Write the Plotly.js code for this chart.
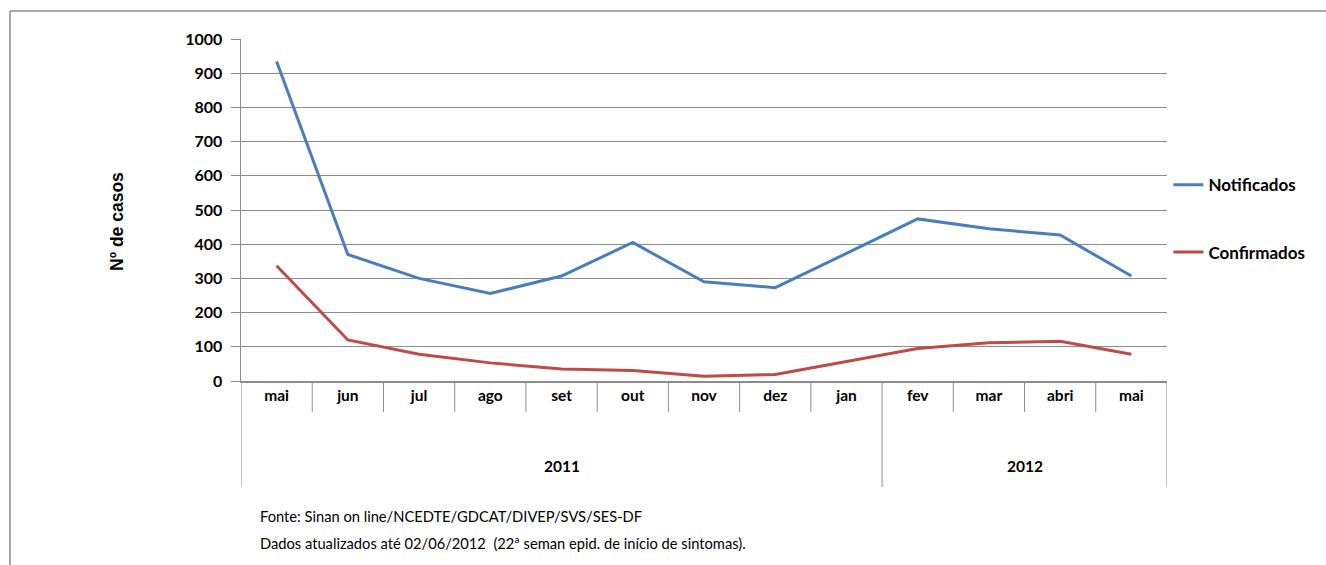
<!DOCTYPE html>
<html>
<head>
<meta charset="utf-8">
<script src="https://cdn.plot.ly/plotly-3.0.1.min.js"></script>
<style>
html,body{margin:0;padding:0;background:#fff;}
#chart{width:1326px;height:565px;}
</style>
</head>
<body>
<div id="chart"></div>
<script>
// ---- data ----
const months = ["mai","jun","jul","ago","set","out","nov","dez","jan","fev","mar","abri","mai"];
const years = ["2011","2011","2011","2011","2011","2011","2011","2011","2011","2012","2012","2012","2012"];
const notificados = [934, 370, 300, 256, 307, 405, 290, 273, 373, 474, 445, 427, 307];
const confirmados = [337, 120, 78, 53, 35, 31, 14, 19, 57, 95, 112, 116, 78];
const yTicks = [0,100,200,300,400,500,600,700,800,900,1000];
const yTitle = "Nº de casos";
const footnote1 = "Fonte: Sinan on line/NCEDTE/GDCAT/DIVEP/SVS/SES-DF";
const footnote2 = "Dados atualizados até 02/06/2012  (22ª seman epid. de início de sintomas).";

const idx = months.map((_, i) => i);

const traces = [
  {x: idx, y: notificados, name: "Notificados", type: "scatter", mode: "lines",
   line: {color: "#4A7EBB", width: 3}, legendgroup: "a"},
  {x: idx, y: confirmados, name: "Confirmados", type: "scatter", mode: "lines",
   line: {color: "#BE4B48", width: 3}, legendgroup: "b"}
];

// year groups derived from the years array
const groups = [];
years.forEach((y, i) => {
  if (!groups.length || groups[groups.length-1].year !== y) groups.push({year: y, start: i, end: i});
  else groups[groups.length-1].end = i;
});

const grey = "#8c8c8c";
const shapes = [
  // outer chart border (top and left edges; the others fall outside the picture)
  {type: "line", xref: "paper", yref: "paper", x0: -0.2495, x1: 1.3, y0: 1.0819, y1: 1.0819,
   line: {color: grey, width: 1.5}, layer: "below"},
  {type: "line", xref: "paper", yref: "paper", x0: -0.2495, x1: -0.2495, y0: -0.7, y1: 1.0819,
   line: {color: grey, width: 1.5}, layer: "below"}
];
const dividerPos = [groups[0].start - 0.5].concat(groups.map(g => g.end + 0.5));
dividerPos.forEach(p => shapes.push({type: "line", xref: "x", yref: "paper", x0: p, x1: p, y0: 0, y1: -0.31,
  line: {color: grey, width: 1}}));
// month separators (boundaries between categories)
idx.slice(1).forEach(i => {
  if (!dividerPos.includes(i - 0.5)) shapes.push({type: "line", xref: "x", yref: "paper", x0: i - 0.5, x1: i - 0.5,
    y0: 0, y1: -0.0906, line: {color: grey, width: 1}});
});

const annotations = groups.map(g => ({
  x: (g.start + g.end) / 2, y: -0.249, xref: "x", yref: "paper", text: "<b>" + g.year + "</b>",
  showarrow: false, font: {family: "Lato", size: 15.5, color: "#000"}, xanchor: "center", yanchor: "middle"
}));
annotations.push({x: 0.018, y: -0.395, xref: "paper", yref: "paper", text: footnote1, showarrow: false,
  xanchor: "left", yanchor: "middle", font: {family: "Lato", size: 14.7, color: "#000"}});
annotations.push({x: 0.018, y: -0.474, xref: "paper", yref: "paper", text: footnote2, showarrow: false,
  xanchor: "left", yanchor: "middle", font: {family: "Lato", size: 14.7, color: "#000"}});
// y-axis title
annotations.push({x: -0.1339, y: 0.465, xref: "paper", yref: "paper", text: "<b>" + yTitle + "</b>", showarrow: false,
  textangle: -90, xanchor: "center", yanchor: "middle", font: {family: "Liberation Sans", size: 17.5, color: "#000"}});

const layout = {
  width: 1326, height: 565,
  margin: {l: 241, r: 159, t: 39, b: 184, pad: 0},
  paper_bgcolor: "#fff", plot_bgcolor: "#fff",
  showlegend: true,
  legend: {x: 1.0015, xanchor: "left", y: 0.625, yanchor: "top", tracegroupgap: 42,
    font: {family: "Lato", size: 17, color: "#000", weight: "bold"}, bgcolor: "rgba(0,0,0,0)"},
  xaxis: {
    type: "linear", range: [-0.5, months.length - 0.5],
    tickmode: "array", tickvals: idx, ticktext: months.map(m => "<b>" + m + "</b>"),
    showgrid: false, zeroline: false, showline: true, linecolor: grey, linewidth: 1.5,
    ticks: "", tickfont: {family: "Lato", size: 15.5, color: "#000"},
    fixedrange: true
  },
  yaxis: {
    range: [0, 1000], tickmode: "array", tickvals: yTicks, ticktext: yTicks.map(v => "<b>" + v + "</b>"),
    showgrid: true, gridcolor: grey, gridwidth: 1, zeroline: false,
    showline: true, linecolor: grey, linewidth: 1.5,
    ticks: "outside", ticklen: 9, tickcolor: grey, tickwidth: 1, ticklabelstandoff: 5,
    tickfont: {family: "Lato", size: 16, color: "#000"},
    fixedrange: true
  },
  shapes: shapes,
  annotations: annotations
};

Plotly.newPlot("chart", traces, layout, {displayModeBar: false, staticPlot: true});
</script>
</body>
</html>
